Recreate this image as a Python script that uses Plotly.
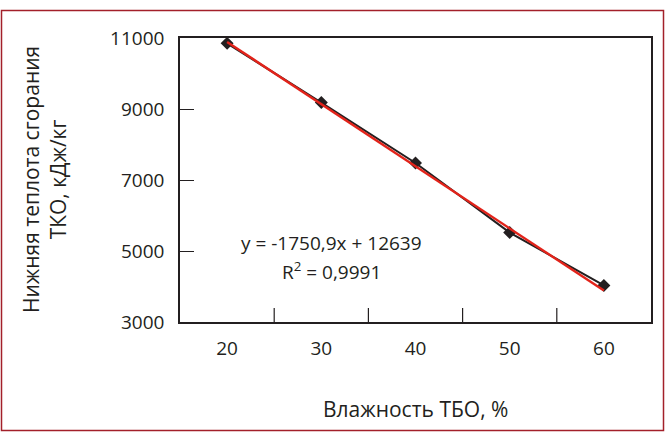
import plotly.graph_objects as go

categories = ["20", "30", "40", "50", "60"]
heat_values = [10850, 9180, 7480, 5520, 4030]
slope = -1750.9
intercept = 12639
y_ticks = [3000, 5000, 7000, 9000, 11000]

trend = [slope * (i + 1) + intercept for i in range(len(categories))]
xs = list(range(len(categories)))

FONT = "Open Sans"
fig = go.Figure()
fig.add_trace(go.Scatter(x=xs, y=heat_values, mode="lines+markers",
                         line=dict(color="#231f20", width=2),
                         marker=dict(symbol="diamond", size=10, color="#231f20"),
                         showlegend=False))
fig.add_trace(go.Scatter(x=xs, y=trend, mode="lines",
                         line=dict(color="#e2231a", width=2.4),
                         showlegend=False))

L, R, T, B = 180, 14, 38, 110
W, H = 665, 432
pw, ph = W - L - R, H - T - B

def px(x):
    return (x - L) / pw

def py(y):
    return (H - B - y) / ph

fig.update_layout(
    width=W, height=H,
    margin=dict(l=L, r=R, t=T, b=B),
    paper_bgcolor="white", plot_bgcolor="white",
    font=dict(family=FONT, size=19, color="#231f20"),
    xaxis=dict(range=[-0.5, 4.5], tickmode="array",
               tickvals=xs, ticktext=categories,
               showgrid=False, zeroline=False,
               showline=True, linecolor="#231f20", linewidth=1.5, mirror=True,
               ticks="", ticklabelstandoff=8),
    yaxis=dict(range=[3000, 11000], tickmode="array", tickvals=y_ticks,
               ticktext=[str(v) for v in y_ticks],
               showgrid=False, zeroline=False,
               showline=True, linecolor="#231f20", linewidth=1.5, mirror=True,
               ticks="inside", ticklen=14, tickcolor="#231f20", tickwidth=1.2,
               ticklabelstandoff=10),
)

# category-boundary tick marks on the x axis (Excel style)
for b in [0.5, 1.5, 2.5, 3.5]:
    fig.add_shape(type="line", xref="x", yref="paper", x0=b, x1=b, y0=0, y1=14 / ph,
                  line=dict(color="#231f20", width=1.2))

# outer dark red frame
fig.add_shape(type="rect", xref="paper", yref="paper",
              x0=px(1.5), x1=px(663.5), y0=py(430.5), y1=py(10.5),
              line=dict(color="#a3202a", width=1.5))

fig.add_annotation(xref="paper", yref="paper", x=px(331), y=py(243),
                   text="y = -1750,9x + 12639", showarrow=False,
                   font=dict(size=19), xanchor="center", yanchor="middle")
fig.add_annotation(xref="paper", yref="paper", x=px(331), y=py(271),
                   text="R<sup>2</sup> = 0,9991", showarrow=False,
                   font=dict(size=19), xanchor="center", yanchor="middle")

fig.add_annotation(xref="paper", yref="paper", x=px(415), y=py(409),
                   text="Влажность ТБО, %", showarrow=False,
                   font=dict(size=21), xanchor="center", yanchor="middle")
fig.add_annotation(xref="paper", yref="paper", x=px(44), y=py(180),
                   text="Нижняя теплота сгорания<br>ТКО, кДж/кг", showarrow=False,
                   textangle=-90, font=dict(size=21), xanchor="center", yanchor="middle")

fig.write_html("out.html")
